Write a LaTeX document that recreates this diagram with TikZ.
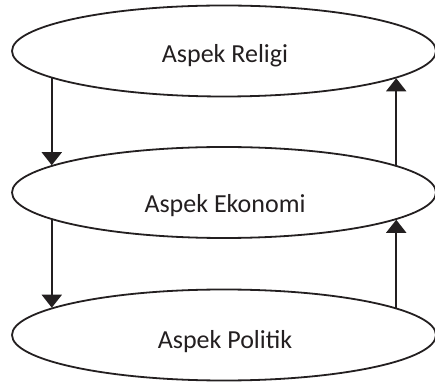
\documentclass[tikz,border=0pt]{standalone}
\usepackage{fontspec}
\setmainfont{Carlito}
\usetikzlibrary{shapes.geometric,arrows.meta}
\definecolor{ink}{HTML}{231F20}
\tikzset{
  ell/.style={ellipse, draw=ink, line width=1.8pt, minimum width=424pt, minimum height=91pt, inner sep=0pt},
  txt/.style={anchor=base, text=ink, font=\fontsize{26}{30}\selectfont, inner sep=0pt},
  arr/.style={draw=ink, line width=1.8pt, -{Triangle[length=13pt,width=20pt]}}
}
\begin{document}
\begin{tikzpicture}[x=1pt,y=1pt]
\useasboundingbox (0,0) rectangle (435,382);
\node[ell] (a) at (224,331) {};
\node[ell] (b) at (224,189.5) {};
\node[ell] (c) at (224,47) {};
\node[txt] (ta) at (225,319) {Aspek Religi};
\node[txt] (tb) at (225,169) {Aspek Ekonomi};
\node[txt] (tc) at (225,34) {Aspek Politik};
\draw[arr] (a.189) -- (b.171);
\draw[arr] (b.189) -- (c.171);
\draw[arr] (b.9) -- (a.-9);
\draw[arr] (c.9) -- (b.-9);
\end{tikzpicture}
\end{document}
